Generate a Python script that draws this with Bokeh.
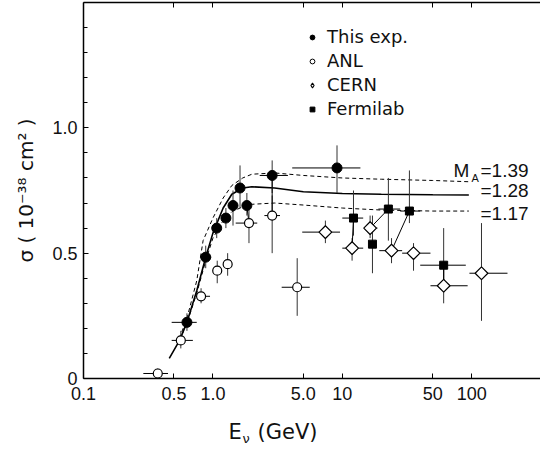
import math
from bokeh.plotting import figure
from bokeh.layouts import column
from bokeh.models import (LogAxis, LinearAxis, FixedTicker, Range1d, Label,
                          Legend, LegendItem)
from bokeh.embed import file_html
from bokeh.resources import INLINE

# ---------------- data ----------------
# This experiment (filled circles)
exp_E     = [0.63, 0.88, 1.07, 1.26, 1.43, 1.62, 1.83, 2.87, 9.1]
exp_sig   = [0.224, 0.484, 0.60, 0.64, 0.69, 0.76, 0.69, 0.81, 0.84]
exp_E_lo  = [0.48, 0.80, 1.07, 1.26, 1.43, 1.62, 1.83, 2.3, 4.1]
exp_E_hi  = [0.75, 0.97, 1.07, 1.26, 1.43, 1.62, 1.83, 3.8, 13.8]
exp_s_lo  = [0.19, 0.44, 0.56, 0.60, 0.61, 0.68, 0.65, 0.74, 0.74]
exp_s_hi  = [0.26, 0.53, 0.64, 0.68, 0.75, 0.85, 0.74, 0.87, 0.93]

# ANL (open circles)
anl_E     = [0.375, 0.565, 0.81, 1.08, 1.3, 1.9, 2.87, 4.48]
anl_sig   = [0.02, 0.152, 0.328, 0.43, 0.456, 0.62, 0.65, 0.364]
anl_E_lo  = [0.29, 0.48, 0.75, 1.08, 1.3, 1.5, 2.5, 3.4]
anl_E_hi  = [0.45, 0.70, 0.95, 1.08, 1.3, 2.2, 3.3, 5.6]
anl_s_lo  = [0.00, 0.12, 0.30, 0.38, 0.41, 0.54, 0.50, 0.25]
anl_s_hi  = [0.04, 0.19, 0.36, 0.47, 0.50, 0.69, 0.73, 0.48]

# CERN (open diamonds)
cern_E    = [7.4, 11.9, 16.4, 24.0, 35.5, 60.7, 119.0]
cern_sig  = [0.584, 0.52, 0.60, 0.51, 0.50, 0.37, 0.42]
cern_E_lo = [4.9, 10.0, 15.0, 19.3, 29.0, 48.0, 96.0]
cern_E_hi = [9.6, 14.5, 18.7, 29.0, 48.0, 93.0, 189.0]
cern_s_lo = [0.54, 0.47, 0.56, 0.46, 0.43, 0.30, 0.23]
cern_s_hi = [0.63, 0.56, 0.65, 0.56, 0.54, 0.44, 0.62]

# Fermilab (filled squares)
fnal_E    = [12.2, 17.1, 22.7, 33.0, 60.7]
fnal_sig  = [0.64, 0.536, 0.676, 0.668, 0.452]
fnal_E_lo = [10.0, 17.1, 19.0, 28.0, 40.0]
fnal_E_hi = [14.5, 17.1, 28.0, 40.0, 90.0]
fnal_s_lo = [0.57, 0.42, 0.55, 0.62, 0.36]
fnal_s_hi = [0.75, 0.65, 0.80, 0.83, 0.60]

# connecting lines between related points (index pairs)
links_exp_anl = [(6, 5), (7, 6)]
links_fnal_cern = [(0, 1), (2, 2), (3, 3), (4, 5)]

# theory curves for M_A = 1.39, 1.28, 1.17
ma139_E   = [0.55, 0.63, 0.75, 0.84, 1.0, 1.2, 1.4, 1.7, 2.0, 3.0, 5.0, 10, 20, 50, 95]
ma139_sig = [0.16, 0.24, 0.39, 0.55, 0.64, 0.72, 0.77, 0.80, 0.815, 0.82, 0.81, 0.80, 0.795, 0.79, 0.785]
ma128_E   = [0.46, 0.55, 0.63, 0.75, 0.88, 1.0, 1.2, 1.4, 1.7, 2.0, 3.0, 5.0, 10, 20, 50, 95]
ma128_sig = [0.08, 0.15, 0.224, 0.35, 0.484, 0.58, 0.68, 0.735, 0.76, 0.765, 0.76, 0.745, 0.738, 0.735, 0.733, 0.732]
ma117_E   = [0.55, 0.63, 0.75, 0.88, 1.0, 1.2, 1.4, 1.7, 2.0, 3.0, 5.0, 10, 20, 50, 95]
ma117_sig = [0.15, 0.22, 0.34, 0.47, 0.56, 0.63, 0.665, 0.685, 0.695, 0.70, 0.692, 0.68, 0.672, 0.668, 0.668]

x_ticks = [0.1, 0.5, 1, 5, 10, 50, 100]
x_tick_labels = ["0.1", "0.5", "1.0", "5.0", "10", "50", "100"]
y_ticks = [0, 0.5, 1.0]
y_tick_labels = ["0", "0.5", "1.0"]
y_minor = [0.1, 0.2, 0.3, 0.4, 0.6, 0.7, 0.8, 0.9, 1.1, 1.2, 1.3, 1.4]

FONT = "Liberation Sans"
LFONT = "DejaVu Sans"
INK = "#111111"
DIAMOND = math.pi / 4

# ---------------- main figure ----------------
p = figure(width=540, height=410, x_axis_type="log", output_backend="svg",
           toolbar_location=None, x_range=Range1d(0.1, 340), y_range=Range1d(0, 1.5),
           min_border_left=83, min_border_right=0, min_border_top=2, min_border_bottom=32,
           x_axis_location=None, y_axis_location=None)
p.outline_line_color = None
p.grid.visible = False

xb = LogAxis(ticker=FixedTicker(ticks=x_ticks),
             major_label_overrides=dict(zip(x_ticks, x_tick_labels)))
xt = LogAxis(ticker=FixedTicker(ticks=x_ticks),
             major_label_overrides={t: "" for t in x_ticks})
yl = LinearAxis(ticker=FixedTicker(ticks=y_ticks, minor_ticks=y_minor),
                major_label_overrides=dict(zip(y_ticks, y_tick_labels)),
                axis_label="σ ( 10⁻³⁸ cm² )")
for ax in (xb, xt, yl):
    ax.major_tick_in = 5
    ax.major_tick_out = 0
    ax.minor_tick_in = 4
    ax.minor_tick_out = 0
    ax.axis_line_color = "black"
    ax.axis_line_width = 1.5
    ax.major_tick_line_color = "black"
    ax.minor_tick_line_color = "black"
    ax.major_label_text_font = FONT
    ax.major_label_text_color = INK
xb.major_label_text_font_size = "18px"
xb.major_label_standoff = 8
xt.major_label_standoff = 0
yl.major_label_text_font_size = "18px"
yl.major_label_standoff = 6
yl.axis_label_text_font = LFONT
yl.axis_label_text_font_size = "20px"
yl.axis_label_text_font_style = "normal"
yl.axis_label_text_color = INK
yl.axis_label_standoff = 11
xt.minor_tick_in = 0
xb.minor_tick_in = 0
p.add_layout(xb, "below")
p.add_layout(xt, "above")
p.add_layout(yl, "left")

# ---------------- curves ----------------
p.line(ma139_E, ma139_sig, line_color="black", line_width=1, line_dash="4 3")
p.line(ma128_E, ma128_sig, line_color="black", line_width=1.6)
p.line(ma117_E, ma117_sig, line_color="black", line_width=1, line_dash="4 3")

# ---------------- error bars ----------------
def errbars(E, s, elo, ehi, slo, shi):
    p.segment(x0=elo, y0=s, x1=ehi, y1=s, line_color="black", line_width=1)
    p.segment(x0=E, y0=slo, x1=E, y1=shi, line_color="#333333", line_width=1)

errbars(exp_E, exp_sig, exp_E_lo, exp_E_hi, exp_s_lo, exp_s_hi)
errbars(anl_E, anl_sig, anl_E_lo, anl_E_hi, anl_s_lo, anl_s_hi)
errbars(cern_E, cern_sig, cern_E_lo, cern_E_hi, cern_s_lo, cern_s_hi)
errbars(fnal_E, fnal_sig, fnal_E_lo, fnal_E_hi, fnal_s_lo, fnal_s_hi)

# connecting lines
lx0 = [exp_E[a] for a, b in links_exp_anl] + [fnal_E[a] for a, b in links_fnal_cern]
ly0 = [exp_sig[a] for a, b in links_exp_anl] + [fnal_sig[a] for a, b in links_fnal_cern]
lx1 = [anl_E[b] for a, b in links_exp_anl] + [cern_E[b] for a, b in links_fnal_cern]
ly1 = [anl_sig[b] for a, b in links_exp_anl] + [cern_sig[b] for a, b in links_fnal_cern]
p.segment(x0=lx0, y0=ly0, x1=lx1, y1=ly1, line_color="black", line_width=1)

# ---------------- markers ----------------
p.scatter(anl_E, anl_sig, marker="circle", size=9, fill_color="white", line_color="black", line_width=1.2)
p.scatter(cern_E, cern_sig, marker="square", angle=DIAMOND, size=9, fill_color="white",
          line_color="black", line_width=1.2)
p.scatter(exp_E, exp_sig, marker="circle", size=10, fill_color="black", line_color="black")
p.scatter(fnal_E, fnal_sig, marker="square", size=8, fill_color="black", line_color="black")

# legend renderers (hidden)
r1 = p.scatter(exp_E, exp_sig, marker="circle", size=8, fill_color="black", line_color="black", visible=False)
r2 = p.scatter(anl_E, anl_sig, marker="circle", size=7, fill_color="white", line_color="black", visible=False)
r3 = p.scatter(cern_E, cern_sig, marker="diamond", size=10, fill_color="white",
               line_color="black", line_width=1.1, visible=False)
r4 = p.scatter(fnal_E, fnal_sig, marker="square", size=7, fill_color="black", line_color="black", visible=False)

legend = Legend(items=[LegendItem(label="This exp.", renderers=[r1]),
                       LegendItem(label="ANL", renderers=[r2]),
                       LegendItem(label="CERN", renderers=[r3]),
                       LegendItem(label="Fermilab", renderers=[r4])],
                location=(223, 259), orientation="vertical",
                background_fill_alpha=0, border_line_alpha=0,
                label_text_font=LFONT, label_text_font_size="18px",
                label_text_color=INK,
                glyph_width=12, glyph_height=20, label_height=20,
                label_standoff=9, spacing=3, padding=0, margin=0)
p.add_layout(legend, "center")

# ---------------- curve labels ----------------
def lab(fig, x, y, text, size, font=FONT, **kw):
    fig.add_layout(Label(x=x, y=y, x_units="screen", y_units="screen", text=text,
                         text_font=font, text_font_size=size, text_color=INK,
                         text_baseline="middle", **kw))

lab(p, 453 - 83, 378 - 170, "M", "19px")
lab(p, 471 - 83, 378 - 177, "A", "11px")
lab(p, 480 - 83, 378 - 170, "=1.39", "19px")
lab(p, 480 - 83, 378 - 190, "=1.28", "19px")
lab(p, 480 - 83, 378 - 213, "=1.17", "19px")

# ---------------- x axis title strip ----------------
q = figure(width=540, height=40, output_backend="svg", toolbar_location=None,
           x_range=Range1d(0, 1), y_range=Range1d(0, 1),
           min_border=0, x_axis_location=None, y_axis_location=None)
q.outline_line_color = None
q.grid.visible = False
lab(q, 228 - 83, 450 - 431, "E", "21px", font=LFONT)
lab(q, 242 - 83, 450 - 438, "ν", "13px", font=LFONT)
lab(q, 257 - 83, 450 - 431, "(GeV)", "21px", font=LFONT)

layout = column(p, q, spacing=0)
open("out.html", "w").write(file_html(layout, INLINE))
